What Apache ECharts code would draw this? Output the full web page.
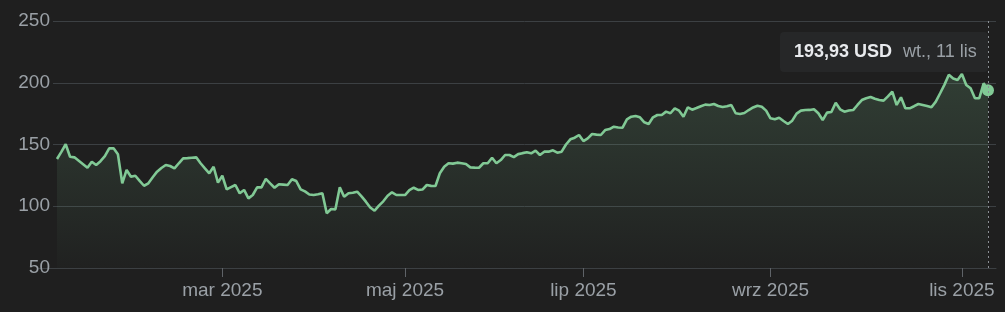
<!DOCTYPE html>
<html>
<head>
<meta charset="utf-8">
<script src="https://cdn.jsdelivr.net/npm/echarts@6/dist/echarts.min.js"></script>
<style>
html,body{margin:0;padding:0;background:#1f1f1f;}
#c{width:1005px;height:312px;}
</style>
</head>
<body>
<div id="c"></div>
<script>
// ---- data ----
const startDate = '2025-01-03';
const endDate = '2025-11-11';
const marketHolidays = ['2025-01-09','2025-01-20','2025-02-17','2025-04-18','2025-05-26','2025-06-19','2025-07-04','2025-09-01'];
const prices = [
  138.3,144,150.2,140.1,139.6,136.8,134,131.2,136.1,133.4,
  136.5,140.5,146.9,146.9,142.1,118.6,129.4,123.9,124.7,120.5,
  116.6,118.6,123.5,128,131,133.4,132.6,130.7,134.8,138.8,
  139,139.3,139.6,134.8,130.7,126.7,132,119.1,124.7,113.7,
  115.5,117.2,110.5,113.2,106.4,109.1,115.3,115.3,122.1,118.5,
  115,117.8,117.5,117.2,121.8,120.4,113.7,112,109.5,109.1,
  109.7,110.5,94.3,97.8,97.5,115.3,107.7,110.5,110.9,111.8,
  108,103.7,99,96.4,100.5,104,108.5,111.3,109.1,109.1,
  109.1,113,115,113.2,113.5,117.2,116.5,116.4,126.7,132,
  134.8,134.5,135.3,134.8,134.2,131.5,131.3,131.2,134.8,134.8,
  139.3,134.8,137.4,141.5,141.5,139.8,142.2,143,143.7,142.9,
  145,141.5,144.2,144.2,145.3,143.4,144.2,150,154.2,155.5,
  157.7,152.8,155,158.5,158,157.7,161.7,162.5,164.4,163.8,
  163.6,170.4,172.5,173.1,172,168,166.6,172,173.9,173.9,
  176.6,175.3,179.3,177.4,172.5,180.1,178.2,179.5,181,182.3,
  182,182.8,181.2,180.4,181,182,175.3,174.7,175.5,177.9,
  180,181.4,180.6,177.4,171.2,170.4,171.7,169,166.6,169.3,
  175,177.4,177.9,178,178.5,175.3,169.8,175.8,176.3,183.8,
  178.5,176.6,177.5,177.9,182,186,187.5,188.5,187,186,
  185.5,189,192.8,182,188.2,179.3,179.3,181,182.8,182,
  181.2,180.1,184.7,191.5,198.5,206.5,203.5,202.2,207.1,198.2,
  195.5,187.5,187.5,199.6,193.93
];
const yTicks = [50, 100, 150, 200, 250];
const monthNames = ['sty','lut','mar','kwi','maj','cze','lip','sie','wrz','paź','lis','gru'];
const weekdayNames = ['niedz.','pon.','wt.','śr.','czw.','pt.','sob.'];
const labelledMonths = [2, 4, 6, 8, 10];
const currency = 'USD';

// ---- trading-day categories ----
const dates = [];
(function(){
  let d = new Date(startDate + 'T00:00:00Z');
  const end = new Date(endDate + 'T00:00:00Z');
  while (d <= end) {
    const iso = d.toISOString().slice(0,10);
    const wd = d.getUTCDay();
    if (wd !== 0 && wd !== 6 && marketHolidays.indexOf(iso) < 0) dates.push(iso);
    d = new Date(d.getTime() + 86400000);
  }
})();

function isMonthStart(i) {
  if (i === 0) return false;
  const m = +dates[i].slice(5,7) - 1;
  const pm = +dates[i-1].slice(5,7) - 1;
  return m !== pm && labelledMonths.indexOf(m) >= 0;
}

const lastIdx = prices.length - 1;
const gridColor = '#3c4043';
const textColor = '#9aa0a6';
const green = '#81c995';
const fontFamily = 'Liberation Sans, Arial, sans-serif';

const chart = echarts.init(document.getElementById('c'), null, {renderer: 'canvas'});
chart.setOption({
  backgroundColor: '#1f1f1f',
  animation: false,
  textStyle: {fontFamily: fontFamily},
  grid: [
    {left: 53, right: 9, top: 21, bottom: 44},
    {left: 39, right: 9, top: 21, bottom: 44},
    {left: 57, right: 17, top: 21, bottom: 44}
  ],
  xAxis: [
    {gridIndex: 0, type: 'value', min: 0, max: 1, show: false, axisPointer: {show: false}},
    {gridIndex: 1, type: 'value', min: 0, max: 1, axisLine: {show: true, lineStyle: {color: gridColor, width: 1}},
     axisTick: {show: false}, axisLabel: {show: false}, splitLine: {show: false}, axisPointer: {show: false}},
    {gridIndex: 2, type: 'category', data: dates, boundaryGap: false,
     axisLine: {show: false},
     axisTick: {show: true, interval: (i) => isMonthStart(i), length: 9, lineStyle: {color: '#5f6368'}},
     axisLabel: {interval: (i) => isMonthStart(i), color: textColor, fontSize: 19, margin: 13,
       fontFamily: fontFamily,
       formatter: (v) => monthNames[+v.slice(5,7) - 1] + ' ' + v.slice(0,4)},
     splitLine: {show: false},
     axisPointer: {show: true, type: 'line', label: {show: false},
       lineStyle: {color: '#8a8f94', type: [2, 3], width: 1}}}
  ],
  yAxis: [
    {gridIndex: 0, type: 'value', min: yTicks[0], max: yTicks[yTicks.length-1], interval: yTicks[1]-yTicks[0],
     axisLine: {show: false}, axisTick: {show: false},
     axisLabel: {color: textColor, fontSize: 19, margin: 3, fontFamily: fontFamily},
     splitLine: {lineStyle: {color: gridColor, width: 1}}, axisPointer: {show: false}},
    {gridIndex: 1, type: 'value', min: yTicks[0], max: yTicks[yTicks.length-1], show: false, axisPointer: {show: false}},
    {gridIndex: 2, type: 'value', min: yTicks[0], max: yTicks[yTicks.length-1], show: false, axisPointer: {show: false}}
  ],
  tooltip: {
    trigger: 'axis',
    triggerOn: 'none',
    alwaysShowContent: true,
    transitionDuration: 0,
    backgroundColor: '#262728',
    borderWidth: 0,
    padding: [9, 11, 9, 14],
    extraCssText: 'box-shadow:none;border-radius:4px;',
    axisPointer: {type: 'line'},
    position: function (pt, params, dom, rect, size) {
      return [988 - size.contentSize[0], 32];
    },
    formatter: function (params) {
      const p = params.find(x => x.seriesIndex === 0) || params[0];
      const idx = p.dataIndex;
      const iso = dates[idx];
      const d = new Date(iso + 'T00:00:00Z');
      const val = prices[idx].toFixed(2).replace('.', ',');
      const dateTxt = weekdayNames[d.getUTCDay()] + ', ' + d.getUTCDate() + ' ' + monthNames[d.getUTCMonth()];
      return '<span style="font-family:' + fontFamily + ';font-size:18px;font-weight:bold;color:#e8eaed">' + val + ' ' + currency + '</span>' +
             '<span style="font-family:' + fontFamily + ';font-size:18px;color:' + textColor + ';margin-left:11px">' + dateTxt + '</span>';
    }
  },
  series: [
    {
      type: 'line', xAxisIndex: 2, yAxisIndex: 2,
      data: prices, symbol: 'none', smooth: false,
      lineStyle: {color: green, width: 2.6},
      emphasis: {disabled: true},
      areaStyle: {
        origin: 'start',
        color: new echarts.graphic.LinearGradient(0, 0, 0, 1, [
          {offset: 0, color: 'rgba(129,201,149,0.26)'},
          {offset: 1, color: 'rgba(129,201,149,0.02)'}
        ])
      }
    },
    {
      type: 'scatter', xAxisIndex: 2, yAxisIndex: 2,
      data: [[lastIdx, prices[lastIdx]]],
      symbolSize: 12, itemStyle: {color: green, opacity: 1},
      emphasis: {disabled: true}, z: 5, tooltip: {show: false}
    }
  ]
});
chart.dispatchAction({type: 'showTip', seriesIndex: 0, dataIndex: lastIdx});
</script>
</body>
</html>
